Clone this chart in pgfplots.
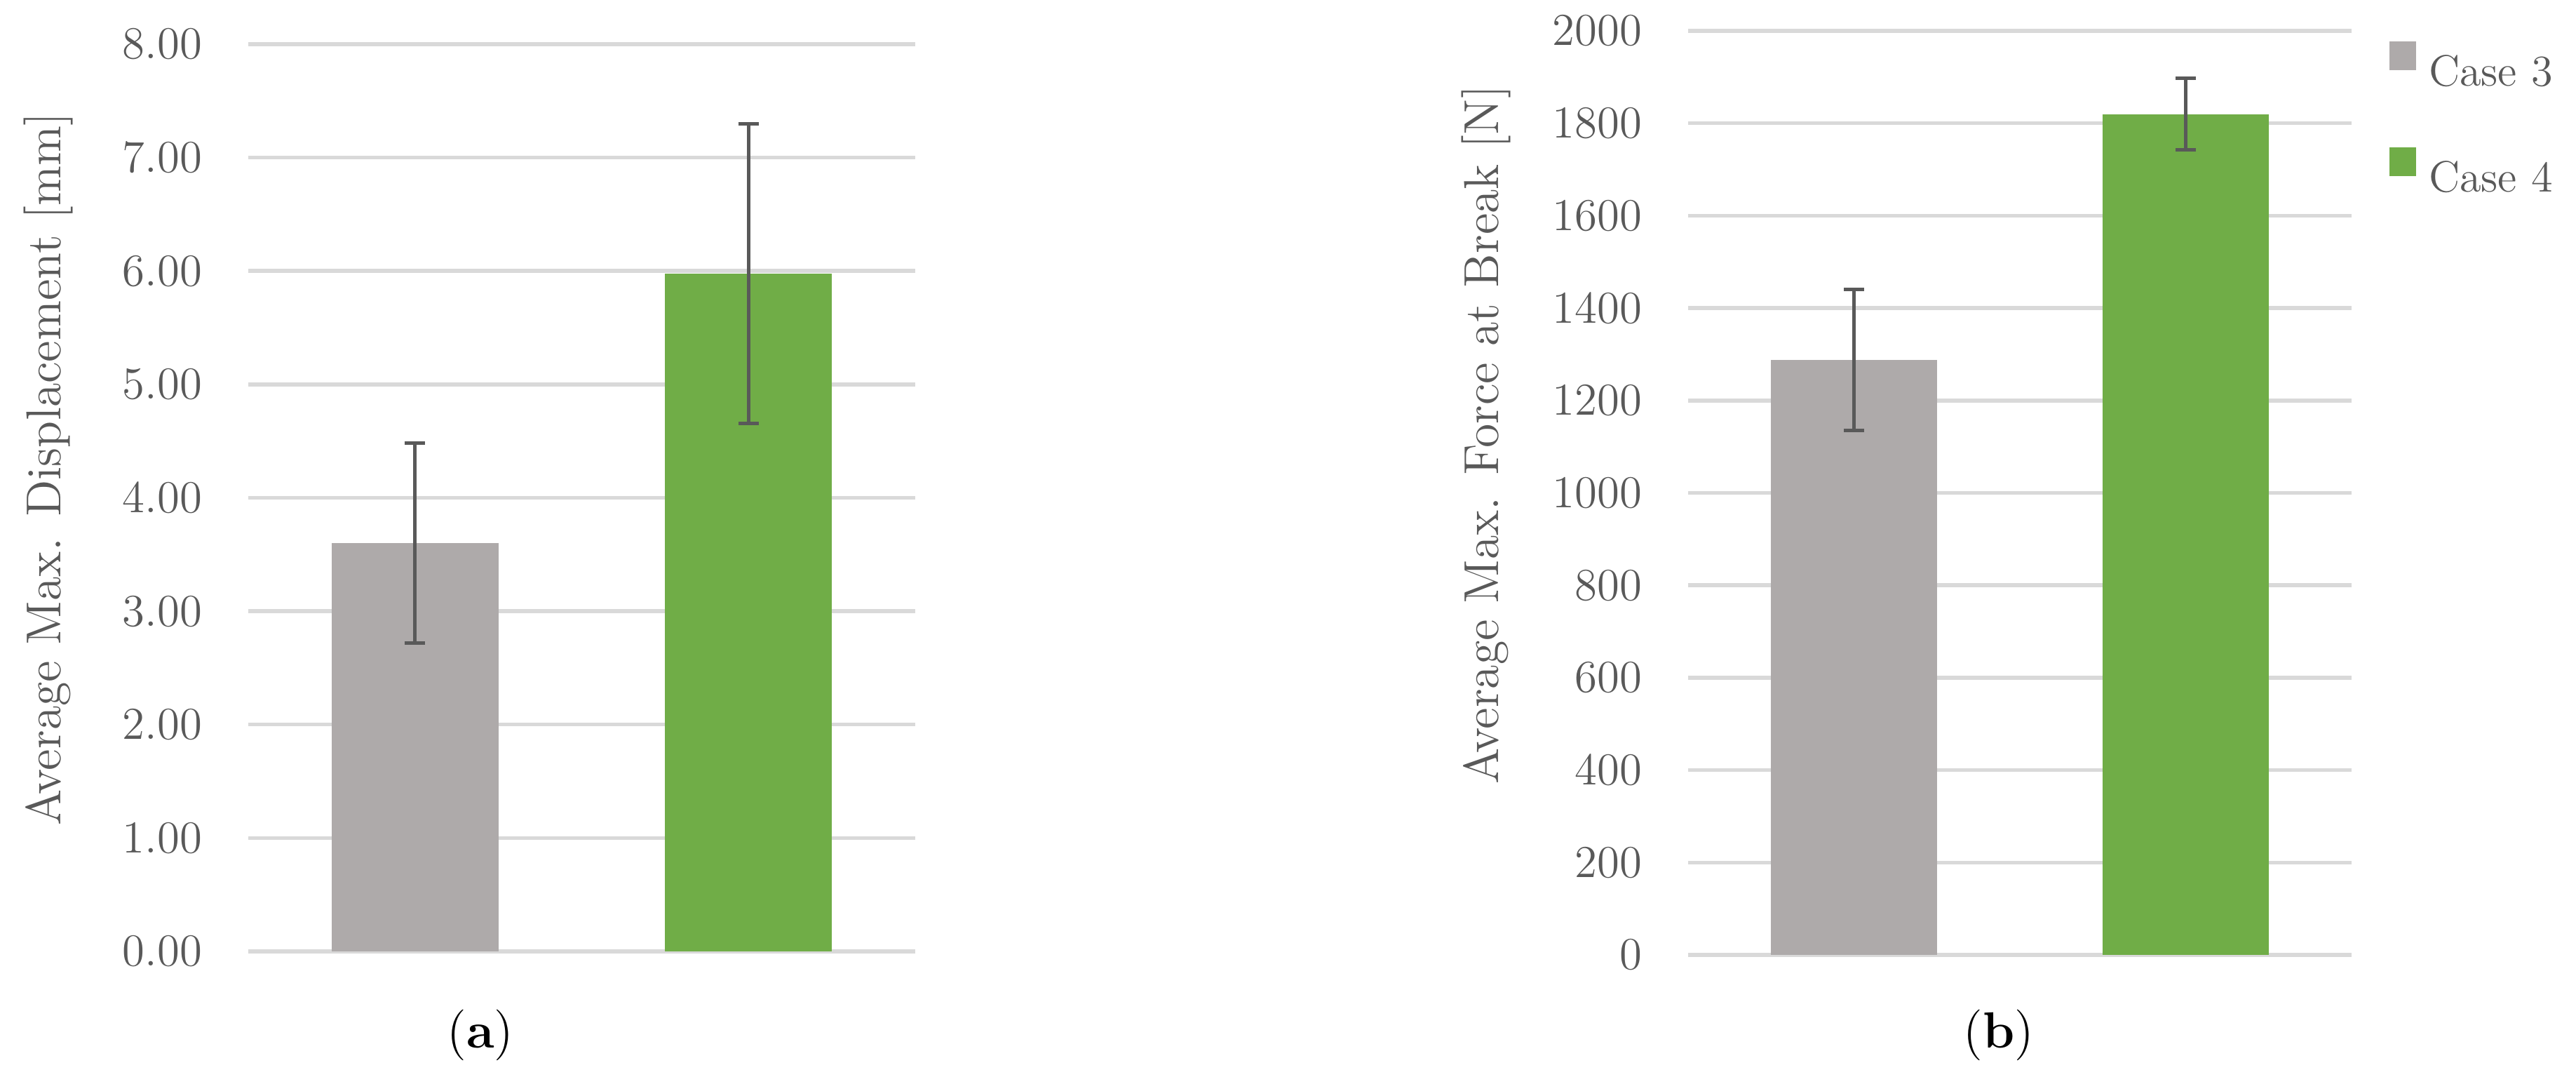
\documentclass[border=0pt]{standalone}
\usepackage{pgfplots}
\pgfplotsset{compat=1.18}
\definecolor{txt}{HTML}{595959}
\definecolor{gridc}{HTML}{D9D9D9}
\definecolor{casegray}{HTML}{AEAAAA}
\definecolor{casegreen}{HTML}{70AD47}
\pgfplotsset{
  mybar/.style={
    scale only axis,
    xmin=-0.5, xmax=1.5, ymin=0,
    axis line style={draw=none},
    major tick length=0pt,
    xtick=\empty,
    ymajorgrids,
    grid style={gridc, line width=1.1pt},
    ybar, bar width=0.5, bar shift=0pt,
    tick label style={font=\fontsize{13}{15}\selectfont, text=txt},
    yticklabel style={anchor=east, inner sep=0pt, xshift=-13pt},
    ylabel style={font=\fontsize{14}{16}\selectfont, text=txt, anchor=south, inner sep=0pt},
    /pgf/number format/assume math mode=true,
    scaled y ticks=false,
    clip=false,
  },
  errstyle/.style={
    /pgfplots/error bars/y dir=both,
    /pgfplots/error bars/y explicit,
    /pgfplots/error bars/error bar style={color=txt, line width=1pt},
    /pgfplots/error bars/error mark options={rotate=90, mark size=2.9pt, line width=1pt, color=txt},
  },
}
\begin{document}
\begin{tikzpicture}
\path[use as bounding box] (0,0) rectangle (734.6pt,307pt);
% (a)
\begin{axis}[mybar,
  at={(70.8pt,35.8pt)}, anchor=south west,
  width=190.2pt, height=258.6pt,
  ymax=8, ytick={0,1,2,3,4,5,6,7,8},
  yticklabel style={/pgf/number format/.cd, fixed, fixed zerofill, precision=2},
  ylabel={Average Max. Displacement [mm]},
  ylabel style={at={(axis description cs:-0.2618,0.532)}},
]
\addplot[fill=casegray, draw=none, errstyle] coordinates {(0,3.60) +- (0,0.88)};
\addplot[fill=casegreen, draw=none, errstyle] coordinates {(1,5.975) +- (0,1.32)};
\end{axis}
% (b)
\begin{axis}[mybar,
  at={(481.4pt,34.8pt)}, anchor=south west,
  width=189.2pt, height=263.4pt,
  ymax=2000, ytick={0,200,...,2000},
  yticklabel style={/pgf/number format/.cd, fixed, precision=0, 1000 sep={}},
  ylabel={Average Max. Force at Break [N]},
  ylabel style={at={(axis description cs:-0.2664,0.563)}},
  legend style={at={(axis description cs:1.0571,0.9886)}, anchor=north west,
    draw=none, fill=none, inner sep=0pt, outer sep=0pt, row sep=17.4pt,
    font=\fontsize{12.5}{15}\selectfont, text=txt,
    nodes={inner sep=0pt, text height=9pt, text depth=0pt}},
  legend cell align=left,
]
\addplot[fill=casegray, draw=none, errstyle,
  legend image code/.code={\fill[casegray] (0pt,0pt) rectangle (7.6pt,8.3pt); \path (11.2pt,0pt);}]
  coordinates {(0,1288) +- (0,153)};
\addlegendentry{Case 3}
\addplot[fill=casegreen, draw=none, errstyle,
  legend image code/.code={\fill[casegreen] (0pt,0pt) rectangle (7.6pt,8.3pt); \path (11.2pt,0pt);}]
  coordinates {(1,1820) +- (0,78)};
\addlegendentry{Case 4}
\end{axis}
\node[font=\fontsize{14.5}{16}\selectfont, text=black] at (137pt,12pt) {(\textbf{a})};
\node[font=\fontsize{14.5}{16}\selectfont, text=black] at (570pt,12pt) {(\textbf{b})};
\end{tikzpicture}
\end{document}
